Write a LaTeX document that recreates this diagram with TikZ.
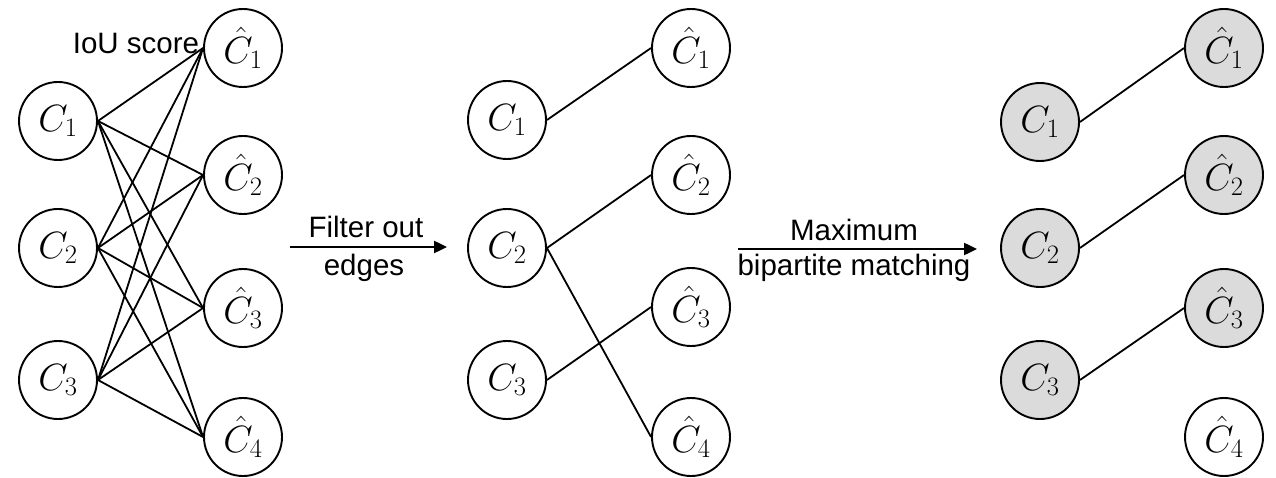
\RequirePackage{fix-cm}
\documentclass[tikz,border=0pt]{standalone}
\usepackage{fontspec}
\setmainfont{Liberation Sans}
\usetikzlibrary{arrows.meta}
\begin{document}
\begin{tikzpicture}[x=1pt,y=-1pt,
  cnode/.style={circle,draw,line width=1.9pt,minimum size=78pt,inner sep=0pt,font=\fontsize{38}{40}\selectfont},
  hit/.style={cnode,fill=gray!28},
  edge/.style={line width=1.8pt},
  flow/.style={line width=2.4pt,-{Triangle[length=13pt,width=12pt]}},
  lab/.style={font=\fontsize{29.5}{32}\selectfont,inner sep=0pt}]
\useasboundingbox (0,0) rectangle (1276,478);
% left graph
\node[cnode] (a1) at (58,121) {$C_1$};
\node[cnode] (a2) at (58,248) {$C_2$};
\node[cnode] (a3) at (58,380) {$C_3$};
\node[cnode] (b1) at (243,48) {$\hat{C}_1$};
\node[cnode] (b2) at (243,175) {$\hat{C}_2$};
\node[cnode] (b3) at (243,308) {$\hat{C}_3$};
\node[cnode] (b4) at (243,437) {$\hat{C}_4$};
\foreach \i in {1,2,3}{\foreach \j in {1,2,3,4}{\draw[edge] (a\i.east) -- (b\j.west);}}
\node[lab] (iou) at (136,43) {IoU score};
% middle graph
\node[cnode] (m1) at (507,120) {$C_1$};
\node[cnode] (m2) at (507,248) {$C_2$};
\node[cnode] (m3) at (507,380) {$C_3$};
\node[cnode] (n1) at (691,48) {$\hat{C}_1$};
\node[cnode] (n2) at (691,175) {$\hat{C}_2$};
\node[cnode] (n3) at (691,307) {$\hat{C}_3$};
\node[cnode] (n4) at (691,437) {$\hat{C}_4$};
\draw[edge] (m1.east) -- (n1.west);
\draw[edge] (m2.east) -- (n2.west);
\draw[edge] (m2.east) -- (n4.west);
\draw[edge] (m3.east) -- (n3.west);
% right graph
\node[hit] (r1) at (1040,122) {$C_1$};
\node[hit] (r2) at (1040,248) {$C_2$};
\node[hit] (r3) at (1040,380) {$C_3$};
\node[hit] (s1) at (1224,48) {$\hat{C}_1$};
\node[hit] (s2) at (1224,175) {$\hat{C}_2$};
\node[hit] (s3) at (1224,308) {$\hat{C}_3$};
\node[cnode] (s4) at (1224,437) {$\hat{C}_4$};
\draw[edge] (r1.east) -- (s1.west);
\draw[edge] (r2.east) -- (s2.west);
\draw[edge] (r3.east) -- (s3.west);
% arrows
\coordinate (f0) at (290,247);
\coordinate (f1) at (447,247);
\draw[flow] (f0) -- (f1);
\node[lab,anchor=base] (ft) at (366,238) {Filter out};
\node[lab,anchor=base] (fb) at (364,275) {edges};
\coordinate (g0) at (738,249);
\coordinate (g1) at (977,249);
\draw[flow] (g0) -- (g1);
\node[lab,anchor=base] (gt) at (854,241) {Maximum};
\node[lab,anchor=base] (gb) at (854,275) {bipartite matching};
\end{tikzpicture}
\end{document}
